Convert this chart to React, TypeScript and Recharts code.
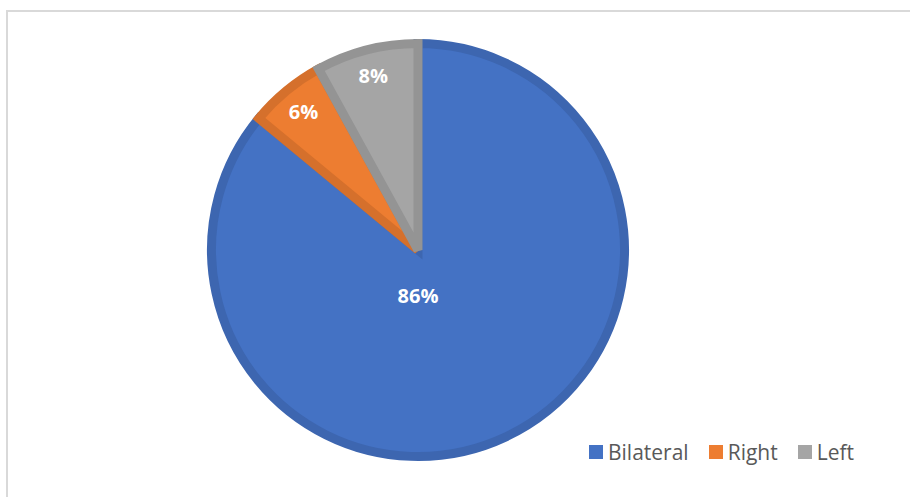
import React from 'react';
import { PieChart, Pie, Cell, Legend } from 'recharts';

const categories = ['Bilateral', 'Right', 'Left'];
const shares = [86, 6, 8];
const fills = ['#4472C4', '#ED7D31', '#A5A5A5'];
const edges = ['#3D66B0', '#D5702C', '#949494'];

const pieData = categories.map((name, i) => ({ name, value: shares[i] }));

const RAD = Math.PI / 180;

const renderLabel = (props: any) => {
  const { cx, cy, midAngle, outerRadius, percent } = props;
  let x: number;
  let y: number;
  if (percent > 0.5) {
    // big slice: label sits just below the centre, like Excel's best fit
    x = cx;
    y = cy + outerRadius * 0.22;
  } else {
    const r = outerRadius * 0.87;
    x = cx + r * Math.cos(-midAngle * RAD);
    y = cy + r * Math.sin(-midAngle * RAD);
  }
  return (
    <text
      x={x}
      y={y}
      fill="#ffffff"
      textAnchor="middle"
      dominantBaseline="central"
      fontFamily="'Open Sans', sans-serif"
      fontWeight={700}
      fontSize={20}
    >
      {`${Math.round(percent * 100)}%`}
    </text>
  );
};

const renderLegend = () => (
  <div style={{ display: 'flex', alignItems: 'center', fontFamily: "'Open Sans', sans-serif", fontSize: 21, color: '#595959' }}>
    {pieData.map((d, i) => (
      <div key={d.name} style={{ display: 'flex', alignItems: 'center', marginRight: 20 }}>
        <div style={{ width: 14, height: 14, background: fills[i], marginRight: 5 }} />
        <span>{d.name}</span>
      </div>
    ))}
  </div>
);

export default function App() {
  return (
    <div style={{ position: 'absolute', left: 0, top: 0, width: 910, height: 497, background: '#fff', overflow: 'hidden' }}>
      <div style={{ position: 'absolute', left: 6, top: 10, width: 920, height: 500, border: '2px solid #d9d9d9', boxSizing: 'border-box' }} />
      <div style={{ position: 'absolute', left: 0, top: 0 }}>
        <PieChart width={910} height={497} margin={{ top: 0, right: 0, bottom: 0, left: 0 }}>
          <Pie
            data={pieData}
            dataKey="value"
            nameKey="name"
            cx={418}
            cy={250}
            outerRadius={206.5}
            startAngle={90}
            endAngle={-270}
            stroke="none"
            strokeWidth={9}
            label={renderLabel}
            labelLine={false}
            isAnimationActive={false}
          >
            {pieData.map((d, i) => (
              <Cell key={d.name} fill={fills[i]} stroke={edges[i]} strokeWidth={9} />
            ))}
          </Pie>
          <Legend
            content={renderLegend}
            wrapperStyle={{ position: 'absolute', left: 589, top: 438, width: 320 }}
          />
        </PieChart>
      </div>
    </div>
  );
}
